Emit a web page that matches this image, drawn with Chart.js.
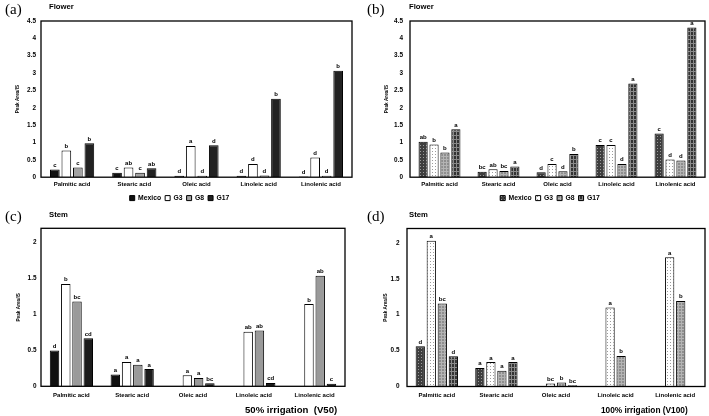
<!DOCTYPE html>
<html>
<head>
<meta charset="utf-8">
<script src="https://cdn.jsdelivr.net/npm/chart.js@4.4.1/dist/chart.umd.min.js"></script>
<style>
html, body { margin: 0; padding: 0; background: #fff; width: 709px; height: 416px; overflow: hidden; position: relative; }
canvas { position: absolute; }
.t { position: absolute; white-space: nowrap; line-height: 1; color: #000; }
.pl { font-family: "Liberation Serif", "Times New Roman", serif; font-size: 15px; }
.hd { font-family: "Liberation Sans", Arial, sans-serif; font-weight: bold; font-size: 7.7px; }
.irr { font-family: "Liberation Sans", Arial, sans-serif; font-weight: bold; }
</style>
</head>
<body>
<canvas id="chartA" width="359" height="210" style="left:0;top:0"></canvas>
<canvas id="chartB" width="329" height="210" style="left:380px;top:0"></canvas>
<canvas id="chartC" width="350" height="216" style="left:0;top:200px"></canvas>
<canvas id="chartD" width="343" height="216" style="left:366px;top:200px"></canvas>

<div class="t pl" style="left:5px;top:2px">(a)</div>
<div class="t hd" style="left:49px;top:2.5px">Flower</div>
<div class="t pl" style="left:367px;top:2px">(b)</div>
<div class="t hd" style="left:409px;top:2.5px">Flower</div>
<div class="t pl" style="left:5px;top:209px">(c)</div>
<div class="t hd" style="left:49px;top:211px">Stem</div>
<div class="t pl" style="left:367px;top:209px">(d)</div>
<div class="t hd" style="left:409px;top:211px">Stem</div>
<div class="t irr" style="left:245px;top:405px;font-size:9.6px">50% irrigation&nbsp; (V50)</div>
<div class="t irr" style="left:601px;top:405.5px;font-size:8.3px">100% irrigation (V100)</div>

<script>
const categories = ['Palmitic acid', 'Stearic acid', 'Oleic acid', 'Linoleic acid', 'Linolenic acid'];
const genotypes = ['Mexico', 'G3', 'G8', 'G17'];
const yTitle = 'Peak Area/IS';

// (a) Flower
const aMexico = [0.22, 0.13, 0.04, 0.04, 0.02];
const aG3 = [0.77, 0.28, 0.9, 0.38, 0.57];
const aG8 = [0.28, 0.13, 0.04, 0.05, 0.04];
const aG17 = [0.98, 0.26, 0.92, 2.26, 3.07];
const aMexicoLetters = ['c', 'c', 'd', 'd', 'd'];
const aG3Letters = ['b', 'ab', 'a', 'd', 'd'];
const aG8Letters = ['c', 'c', 'd', 'd', 'd'];
const aG17Letters = ['b', 'ab', 'd', 'b', 'b'];

// (b) Flower
const bMexico = [1.02, 0.155, 0.145, 0.93, 1.26];
const bG3 = [0.94, 0.23, 0.38, 0.93, 0.51];
const bG8 = [0.71, 0.18, 0.17, 0.38, 0.48];
const bG17 = [1.38, 0.31, 0.67, 2.7, 4.31];
const bMexicoLetters = ['ab', 'bc', 'd', 'c', 'c'];
const bG3Letters = ['b', 'ab', 'c', 'c', 'd'];
const bG8Letters = ['b', 'bc', 'd', 'd', 'd'];
const bG17Letters = ['a', 'a', 'b', 'a', 'a'];

// (c) Stem, 50% irrigation
const cMexico = [0.5, 0.165, null, null, null];
const cG3 = [1.425, 0.34, 0.155, 0.76, 1.145];
const cG8 = [1.18, 0.3, 0.117, 0.776, 1.54];
const cG17 = [0.67, 0.24, 0.042, 0.047, 0.037];
const cMexicoLetters = ['d', 'a', '', '', ''];
const cG3Letters = ['b', 'a', 'a', 'ab', 'b'];
const cG8Letters = ['bc', 'a', 'a', 'ab', 'ab'];
const cG17Letters = ['cd', 'a', 'bc', 'cd', 'c'];

// (d) Stem, 100% irrigation
const dMexico = [0.56, 0.257, null, null, null];
const dG3 = [2.03, 0.34, 0.042, 1.1, 1.8];
const dG8 = [1.154, 0.22, 0.056, 0.425, 1.19];
const dG17 = [0.42, 0.34, 0.019, null, null];
const dMexicoLetters = ['d', 'a', '', '', ''];
const dG3Letters = ['a', 'a', 'bc', 'a', 'a'];
const dG8Letters = ['bc', 'a', 'b', 'b', 'b'];
const dG17Letters = ['d', 'a', 'bc', '', ''];

const FAMILY = "'Liberation Sans', Arial, sans-serif";

function makePattern(bg, fg, kind) {
  const c = document.createElement('canvas');
  const x = c.getContext('2d');
  if (kind === 'dots') {
    c.width = 3; c.height = 3;
    x.fillStyle = bg; x.fillRect(0, 0, 3, 3);
    x.fillStyle = fg; x.fillRect(1, 1, 1, 1);
  } else if (kind === 'grid') {
    c.width = 3; c.height = 3;
    x.fillStyle = bg; x.fillRect(0, 0, 3, 3);
    x.fillStyle = fg; x.fillRect(0, 0, 3, 1); x.fillRect(0, 0, 1, 3);
  } else {
    c.width = 3; c.height = 4;
    x.fillStyle = bg; x.fillRect(0, 0, 3, 4);
    x.fillStyle = fg; x.fillRect(1, 0, 1, 4); x.fillRect(0, 3, 3, 1);
  }
  return x.createPattern(c, 'repeat');
}

const solidFills = ['#111111', '#ffffff', '#a3a3a3', '#222222'];
const solidFillsC = ['#111111', '#ffffff', '#9a9a9a', '#1c1c1c'];
const patternFills = [
  makePattern('#3e3e3e', '#9a9a9a', 'dots'),
  makePattern('#ffffff', '#9c9c9c', 'dots'),
  makePattern('#8e8e8e', '#b4b4b4', 'grid'),
  makePattern('#333333', '#8a8a8a', 'stripes')
];

const letterPlugin = {
  id: 'letters',
  afterDatasetsDraw(chart) {
    const ctx = chart.ctx;
    ctx.save();
    ctx.font = 'bold 6px ' + FAMILY;
    ctx.fillStyle = '#000';
    ctx.textAlign = 'center';
    ctx.textBaseline = 'bottom';
    chart.data.datasets.forEach((ds, i) => {
      chart.getDatasetMeta(i).data.forEach((bar, j) => {
        const l = ds.letters[j];
        if (l && ds.data[j] != null) ctx.fillText(l, bar.x, bar.y - 1.2);
      });
    });
    ctx.restore();
  }
};

const framePlugin = {
  id: 'frame',
  afterDraw(chart) {
    const { ctx, chartArea: a } = chart;
    ctx.save();
    ctx.strokeStyle = '#000';
    ctx.lineWidth = 1.3;
    ctx.strokeRect(a.left, a.top, a.right - a.left, a.bottom - a.top);
    ctx.restore();
  }
};

const legendShift = {
  id: 'legendShift',
  afterLayout(chart, args, opts) {
    const l = chart.legend;
    if (l && l.options.display) {
      l.left += opts.dx || 0; l.right += opts.dx || 0;
      l.top += opts.dy || 0; l.bottom += opts.dy || 0;
    }
  }
};

function drawPanel(id, series, letters, fills, cfg) {
  const datasets = series.map((vals, i) => ({
    label: genotypes[i],
    data: vals,
    letters: letters[i],
    backgroundColor: fills[i],
    borderColor: '#000',
    borderWidth: 1,
    categoryPercentage: 0.74,
    barPercentage: 0.84
  }));
  new Chart(document.getElementById(id).getContext('2d'), {
    type: 'bar',
    data: { labels: categories, datasets: datasets },
    plugins: [letterPlugin, framePlugin, legendShift],
    options: {
      responsive: false,
      animation: false,
      devicePixelRatio: 1,
      layout: { padding: cfg.padding },
      plugins: {
        tooltip: { enabled: false },
        legendShift: { dx: cfg.legendDx || 0, dy: cfg.legendDy || 0 },
        legend: {
          display: cfg.legend,
          position: 'bottom',
          labels: {
            boxWidth: 5, boxHeight: 5, padding: 4, color: '#000',
            font: { size: 6.8, weight: 'bold', family: FAMILY }
          }
        }
      },
      scales: {
        x: {
          grid: { display: false, drawTicks: false },
          border: { display: false },
          ticks: {
            color: '#000', padding: cfg.xPad, maxRotation: 0, autoSkip: false,
            font: { size: 6, weight: 'bold', family: FAMILY }
          },
          afterFit: s => { s.height = cfg.xHeight; }
        },
        y: {
          min: 0,
          max: cfg.yMax,
          grid: { display: false, drawTicks: false },
          border: { display: false },
          ticks: {
            stepSize: 0.5, color: '#000', padding: cfg.yPad,
            font: { size: 6.4, weight: 'bold', family: FAMILY },
            callback: v => String(+v.toFixed(2))
          },
          title: {
            display: true, text: yTitle, color: '#000',
            font: { size: 4.7, weight: 'bold', family: FAMILY },
            padding: { top: cfg.titlePad, bottom: 0 }
          },
          afterBuildTicks: s => {
            s.ticks = s.ticks.filter(t => Math.abs(t.value * 2 - Math.round(t.value * 2)) < 1e-6);
          },
          afterFit: s => { s.width = cfg.yWidth; }
        }
      }
    }
  });
}

drawPanel('chartA', [aMexico, aG3, aG8, aG17],
  [aMexicoLetters, aG3Letters, aG8Letters, aG17Letters], solidFills,
  { padding: { top: 21, right: 7, left: 0, bottom: 0 }, yMax: 4.5, yWidth: 41, yPad: 5,
    titlePad: 15, xHeight: 12, xPad: 3.4, legend: true, legendDx: 3.5, legendDy: 1.5 });

drawPanel('chartB', [bMexico, bG3, bG8, bG17],
  [bMexicoLetters, bG3Letters, bG8Letters, bG17Letters], patternFills,
  { padding: { top: 21, right: 4, left: 0, bottom: 0 }, yMax: 4.5, yWidth: 30, yPad: 7,
    titlePad: 4.2, xHeight: 12, xPad: 3.4, legend: true, legendDx: 7.5, legendDy: 1.5 });

drawPanel('chartC', [cMexico, cG3, cG8, cG17],
  [cMexicoLetters, cG3Letters, cG8Letters, cG17Letters], solidFillsC,
  { padding: { top: 28.3, right: 5, left: 0, bottom: 0 }, yMax: 2.2, yWidth: 41, yPad: 4.5,
    titlePad: 16, xHeight: 29.7, xPad: 5.4, legend: false });

drawPanel('chartD', [dMexico, dG3, dG8, dG17],
  [dMexicoLetters, dG3Letters, dG8Letters, dG17Letters], patternFills,
  { padding: { top: 28.5, right: 4, left: 0, bottom: 0 }, yMax: 2.2, yWidth: 41, yPad: 7.5,
    titlePad: 17, xHeight: 29.5, xPad: 5.4, legend: false });
</script>
</body>
</html>
